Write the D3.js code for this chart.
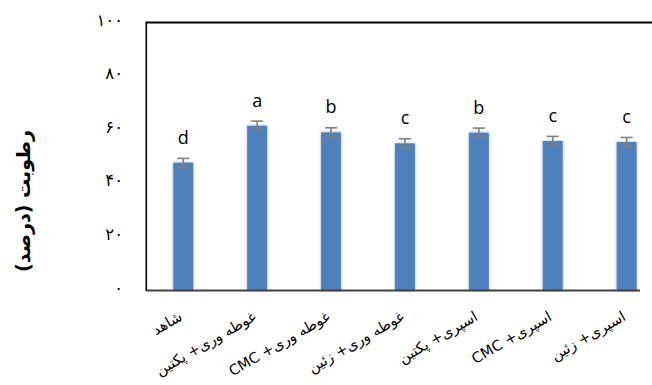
<!DOCTYPE html>
<html>
<head>
<meta charset="utf-8">
<script src="https://cdn.jsdelivr.net/npm/d3@7"></script>
<style>
  html, body { margin: 0; padding: 0; background: #fff; }
  svg { display: block; }
</style>
</head>
<body>
<svg id="chart" width="652" height="385"></svg>
<script>
// Treatments (moisture content, percent)
const categories = ["شاهد", "غوطه وری+ پکتین", "غوطه وری+ CMC", "غوطه وری+ زئین", "اسپری+ پکتین", "اسپری+ CMC", "اسپری+ زئین"];
const moisture = [47.7, 61.5, 59.0, 54.9, 58.9, 55.8, 55.4];
const errors = [1.6, 1.7, 1.7, 1.7, 1.7, 1.7, 1.7];
const groups = ["d", "a", "b", "c", "b", "c", "c"];
const yTicks = [0, 20, 40, 60, 80, 100];
const yTickLabels = ["۰", "۲۰", "۴۰", "۶۰", "۸۰", "۱۰۰"];
const yTitle = "رطوبت (درصد)";

const svg = d3.select("#chart");
const plotLeft = 146.3, plotRight = 663.6, plotTop = 22.5, plotBottom = 290.5;

const x = d3.scaleBand().domain(categories).range([plotLeft, plotRight]).padding(0);
const y = d3.scaleLinear().domain([0, 100]).range([plotBottom, plotTop]);
const barW = x.bandwidth() * 0.27;

// soft shadow behind bars
const defs = svg.append("defs");
const f = defs.append("filter").attr("id", "shadow").attr("x", "-30%").attr("y", "-10%").attr("width", "160%").attr("height", "120%");
f.append("feGaussianBlur").attr("in", "SourceAlpha").attr("stdDeviation", 1.6).attr("result", "b");
f.append("feComponentTransfer").attr("in", "b").attr("result", "s")
  .append("feFuncA").attr("type", "linear").attr("slope", 0.35);
const m = f.append("feMerge");
m.append("feMergeNode").attr("in", "s");
m.append("feMergeNode").attr("in", "SourceGraphic");

// bars
svg.append("g").selectAll("rect").data(categories).join("rect")
  .attr("x", (d) => x(d) + x.bandwidth() / 2 - barW / 2)
  .attr("y", (d, i) => y(moisture[i]))
  .attr("width", barW)
  .attr("height", (d, i) => y(0) - y(moisture[i]))
  .attr("fill", "#4F81BD")
  .attr("filter", "url(#shadow)");

// error bars
const eb = svg.append("g").attr("stroke", "#7f7f7f").attr("stroke-width", 1.6);
categories.forEach((c, i) => {
  const cx = x(c) + x.bandwidth() / 2;
  const y1 = y(moisture[i] + errors[i]), y2 = y(moisture[i] - errors[i]);
  eb.append("line").attr("x1", cx).attr("x2", cx).attr("y1", y1).attr("y2", y2);
  eb.append("line").attr("x1", cx - 6).attr("x2", cx + 6).attr("y1", y1).attr("y2", y1);
  eb.append("line").attr("x1", cx - 6).attr("x2", cx + 6).attr("y1", y2).attr("y2", y2);
});

// significance letters
svg.append("g").selectAll("text").data(groups).join("text")
  .attr("x", (d, i) => x(categories[i]) + x.bandwidth() / 2)
  .attr("y", (d, i) => y(moisture[i]) - 19)
  .attr("text-anchor", "middle")
  .attr("font-family", "'Open Sans', 'Liberation Sans', sans-serif")
  .attr("font-size", 18)
  .attr("fill", "#000")
  .text((d) => d);

// frame: left and top lines
svg.append("line").attr("x1", plotLeft).attr("x2", plotLeft).attr("y1", plotTop).attr("y2", plotBottom)
  .attr("stroke", "#000").attr("stroke-width", 1.6);
svg.append("line").attr("x1", plotLeft - 0.8).attr("x2", 652).attr("y1", plotTop).attr("y2", plotTop)
  .attr("stroke", "#000").attr("stroke-width", 2);

// x axis baseline
svg.append("line").attr("x1", plotLeft - 0.8).attr("x2", 640).attr("y1", plotBottom).attr("y2", plotBottom)
  .attr("stroke", "#404040").attr("stroke-width", 2);

// y tick labels
svg.append("g").selectAll("text").data(yTicks).join("text")
  .attr("x", 123)
  .attr("y", (d) => y(d) + 3)
  .attr("text-anchor", "end")
  .attr("font-family", "'DejaVu Sans', sans-serif")
  .attr("font-size", 16.5)
  .attr("fill", "#000")
  .text((d, i) => yTickLabels[i]);

// x category labels, rotated
svg.append("g").selectAll("text").data(categories).join("text")
  .attr("transform", (d) => `translate(${x(d) + x.bandwidth() / 2 - 2},${316}) rotate(-30)`)
  .attr("direction", "rtl")
  .attr("text-anchor", "start")
  .attr("dominant-baseline", "middle")
  .attr("font-family", "'DejaVu Sans', sans-serif")
  .attr("font-size", 14.5)
  .attr("fill", "#000")
  .text((d) => d);

// y axis title
svg.append("text")
  .attr("transform", `translate(30,${201}) rotate(-90)`)
  .attr("direction", "rtl")
  .attr("text-anchor", "middle")
  .attr("font-family", "'DejaVu Sans', sans-serif")
  .attr("font-weight", "bold")
  .attr("font-size", 19)
  .attr("fill", "#000")
  .text(yTitle);
</script>
</body>
</html>
